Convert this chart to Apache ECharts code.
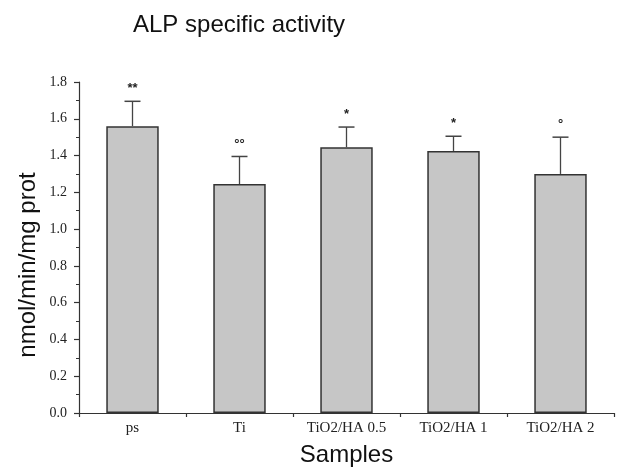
<!DOCTYPE html>
<html><head><meta charset="utf-8">
<script src="https://cdn.jsdelivr.net/npm/echarts@6/dist/echarts.min.js"></script>
<style>html,body{margin:0;padding:0;background:#fff}#c{width:620px;height:472px}</style>
</head><body><div id="c"></div>
<script>
const categories = ['ps', 'Ti', 'TiO2/HA 0.5', 'TiO2/HA 1', 'TiO2/HA 2'];
const means = [1.56, 1.245, 1.445, 1.425, 1.30];
const errUpper = [1.695, 1.395, 1.555, 1.505, 1.50];
const marks = ['**', '\u00b0\u00b0', '*', '*', '\u00b0'];
const yTicks = [0, 0.2, 0.4, 0.6, 0.8, 1.0, 1.2, 1.4, 1.6, 1.8];

const chart = echarts.init(document.getElementById('c'));
chart.setOption({
  animation: false,
  title: {
    text: 'ALP specific activity', left: 128, top: 8,
    textStyle: { fontFamily: 'Liberation Sans, Arial', fontWeight: 'normal', fontSize: 24, color: '#111' }
  },
  graphic: [{
    type: 'text', x: 28, y: 265, rotation: Math.PI / 2,
    style: { text: 'nmol/min/mg prot', align: 'center', verticalAlign: 'middle',
      font: '24px Liberation Sans, Arial', fill: '#111' }
  }],
  grid: { left: 79, right: 6, top: 82, bottom: 59 },
  xAxis: {
    type: 'category', data: categories,
    name: 'Samples', nameLocation: 'middle', nameGap: 30,
    nameTextStyle: { fontFamily: 'Liberation Sans, Arial', fontSize: 24, color: '#111' },
    axisLine: { lineStyle: { color: '#333', width: 1.2 } },
    axisTick: { show: true, length: 4, lineStyle: { color: '#333', width: 1.2 } },
    axisLabel: { fontFamily: 'Liberation Serif, Times New Roman', fontSize: 15, color: '#222', margin: 8 }
  },
  yAxis: {
    type: 'value', min: 0, max: 1.8, interval: 0.2,
    axisLine: { show: true, lineStyle: { color: '#333', width: 1.2 } },
    axisTick: { show: true, length: 5, lineStyle: { color: '#333', width: 1.2 } },
    minorTick: { show: true, splitNumber: 2, length: 3, lineStyle: { color: '#333', width: 1 } },
    splitLine: { show: false },
    axisLabel: {
      fontFamily: 'Liberation Serif, Times New Roman', fontSize: 14, color: '#222', margin: 12,
      formatter: v => yTicks.includes(Math.round(v * 10) / 10) ? v.toFixed(1) : ''
    }
  },
  series: [
    {
      type: 'bar', data: means, barWidth: '49%',
      itemStyle: { color: '#c6c6c6', borderColor: '#333', borderWidth: 1.5 }
    },
    {
      type: 'custom',
      data: categories.map((c, i) => [i, means[i], errUpper[i]]),
      renderItem: function (params, api) {
        const i = api.value(0);
        const base = api.coord([i, api.value(1)]);
        const top = api.coord([i, api.value(2)]);
        const cap = 8;
        return {
          type: 'group',
          children: [
            { type: 'line', shape: { x1: base[0], y1: base[1], x2: top[0], y2: top[1] },
              style: { stroke: '#444', lineWidth: 1.3 } },
            { type: 'line', shape: { x1: top[0] - cap, y1: top[1], x2: top[0] + cap, y2: top[1] },
              style: { stroke: '#444', lineWidth: 1.5 } },
            { type: 'text', x: top[0], y: top[1] - 6,
              style: { text: marks[params.dataIndex], align: 'center', verticalAlign: 'bottom',
                font: 'bold 13px Liberation Sans, Arial', fill: '#222' } }
          ]
        };
      },
      z: 3
    }
  ]
});
</script></body></html>
